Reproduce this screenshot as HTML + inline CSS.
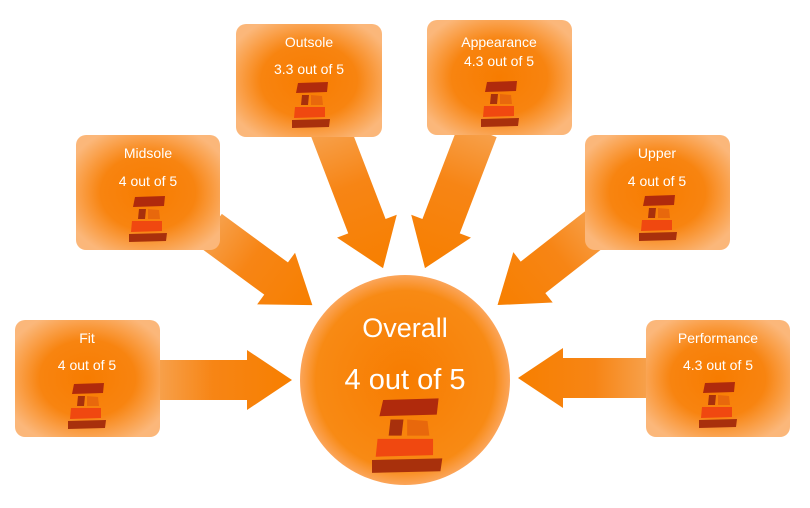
<!DOCTYPE html>
<html><head><meta charset="utf-8"><style>html,body{margin:0;padding:0;background:#fff}svg{display:block}text{font-family:"Liberation Sans",sans-serif;fill:#fff;text-anchor:middle}</style></head><body>
<svg width="810" height="508" viewBox="0 0 810 508" xmlns="http://www.w3.org/2000/svg">
<defs>
<radialGradient id="bx" cx="50%" cy="50%" r="60%"><stop offset="0" stop-color="#f77c00"/><stop offset="0.55" stop-color="#f88410"/><stop offset="1" stop-color="#fbb77a"/></radialGradient>
<radialGradient id="ci" cx="50%" cy="50%" r="50%"><stop offset="0" stop-color="#f77c00"/><stop offset="0.85" stop-color="#f88a14"/><stop offset="1" stop-color="#fba55a"/></radialGradient>
<linearGradient id="ar" x1="0" y1="0" x2="1" y2="0"><stop offset="0" stop-color="#f7a04a"/><stop offset="0.4" stop-color="#f78515"/><stop offset="1" stop-color="#f77f00"/></linearGradient>
<g id="ic">
<polygon points="6,0 36,-1 35,9 4,10" fill="#b02a0c"/>
<polygon points="10,12 17,12 16,22 9,22" fill="#a8300c"/>
<polygon points="19,12 30,13 31,22 19,22" fill="#e8680c"/>
<polygon points="3,24 33,24 33,34 2,35" fill="#f04810"/>
<polygon points="0,37 38,36 37,44 0,45" fill="#a8300c"/>
</g>
</defs>
<!-- arrows -->
<g fill="url(#ar)">
<g transform="translate(160,380) rotate(0)"><polygon points="0,-20 87,-20 87,-30 132,0 87,30 87,20 0,20"/></g>
<g transform="translate(646,378) rotate(180)"><polygon points="0,-20 83,-20 83,-30 128,0 83,30 83,20 0,20"/></g>
<g transform="translate(210,230) rotate(36.3)"><polygon points="0,-20 82,-20 82,-32 127,0 82,32 82,20 0,20"/></g>
<g transform="translate(330,130) rotate(69)"><polygon points="0,-20 103,-20 103,-32 148,0 103,32 103,20 0,20"/></g>
<g transform="translate(478,130) rotate(111)"><polygon points="0,-20 103,-20 103,-32 148,0 103,32 103,20 0,20"/></g>
<g transform="translate(600,225) rotate(142)"><polygon points="0,-20 85,-20 85,-32 130,0 85,32 85,20 0,20"/></g>
</g>
<!-- boxes -->
<g>
<rect x="15" y="320" width="145" height="117" rx="10" fill="url(#bx)"/>
<text x="87" y="343" font-size="14">Fit</text><text x="87" y="370" font-size="14">4 out of 5</text>
<use href="#ic" transform="translate(68,384)"/>

<rect x="76" y="135" width="144" height="115" rx="10" fill="url(#bx)"/>
<text x="148" y="158" font-size="14">Midsole</text><text x="148" y="186" font-size="14">4 out of 5</text>
<use href="#ic" transform="translate(129,197)"/>

<rect x="236" y="24" width="146" height="113" rx="10" fill="url(#bx)"/>
<text x="309" y="47" font-size="14">Outsole</text><text x="309" y="74" font-size="14">3.3 out of 5</text>
<use href="#ic" transform="translate(292,83)"/>

<rect x="427" y="20" width="145" height="115" rx="10" fill="url(#bx)"/>
<text x="499" y="47" font-size="14">Appearance</text><text x="499" y="66" font-size="14">4.3 out of 5</text>
<use href="#ic" transform="translate(481,82)"/>

<rect x="585" y="135" width="145" height="115" rx="10" fill="url(#bx)"/>
<text x="657" y="158" font-size="14">Upper</text><text x="657" y="186" font-size="14">4 out of 5</text>
<use href="#ic" transform="translate(639,196)"/>

<rect x="646" y="320" width="144" height="117" rx="10" fill="url(#bx)"/>
<text x="718" y="343" font-size="14">Performance</text><text x="718" y="370" font-size="14">4.3 out of 5</text>
<use href="#ic" transform="translate(699,383)"/>
</g>
<!-- circle -->
<circle cx="405" cy="380" r="105" fill="url(#ci)"/>
<text x="405" y="337" font-size="27">Overall</text>
<text x="405" y="389" font-size="29">4 out of 5</text>
<use href="#ic" transform="translate(372,400) scale(1.85,1.62)"/>
</svg>
</body></html>
